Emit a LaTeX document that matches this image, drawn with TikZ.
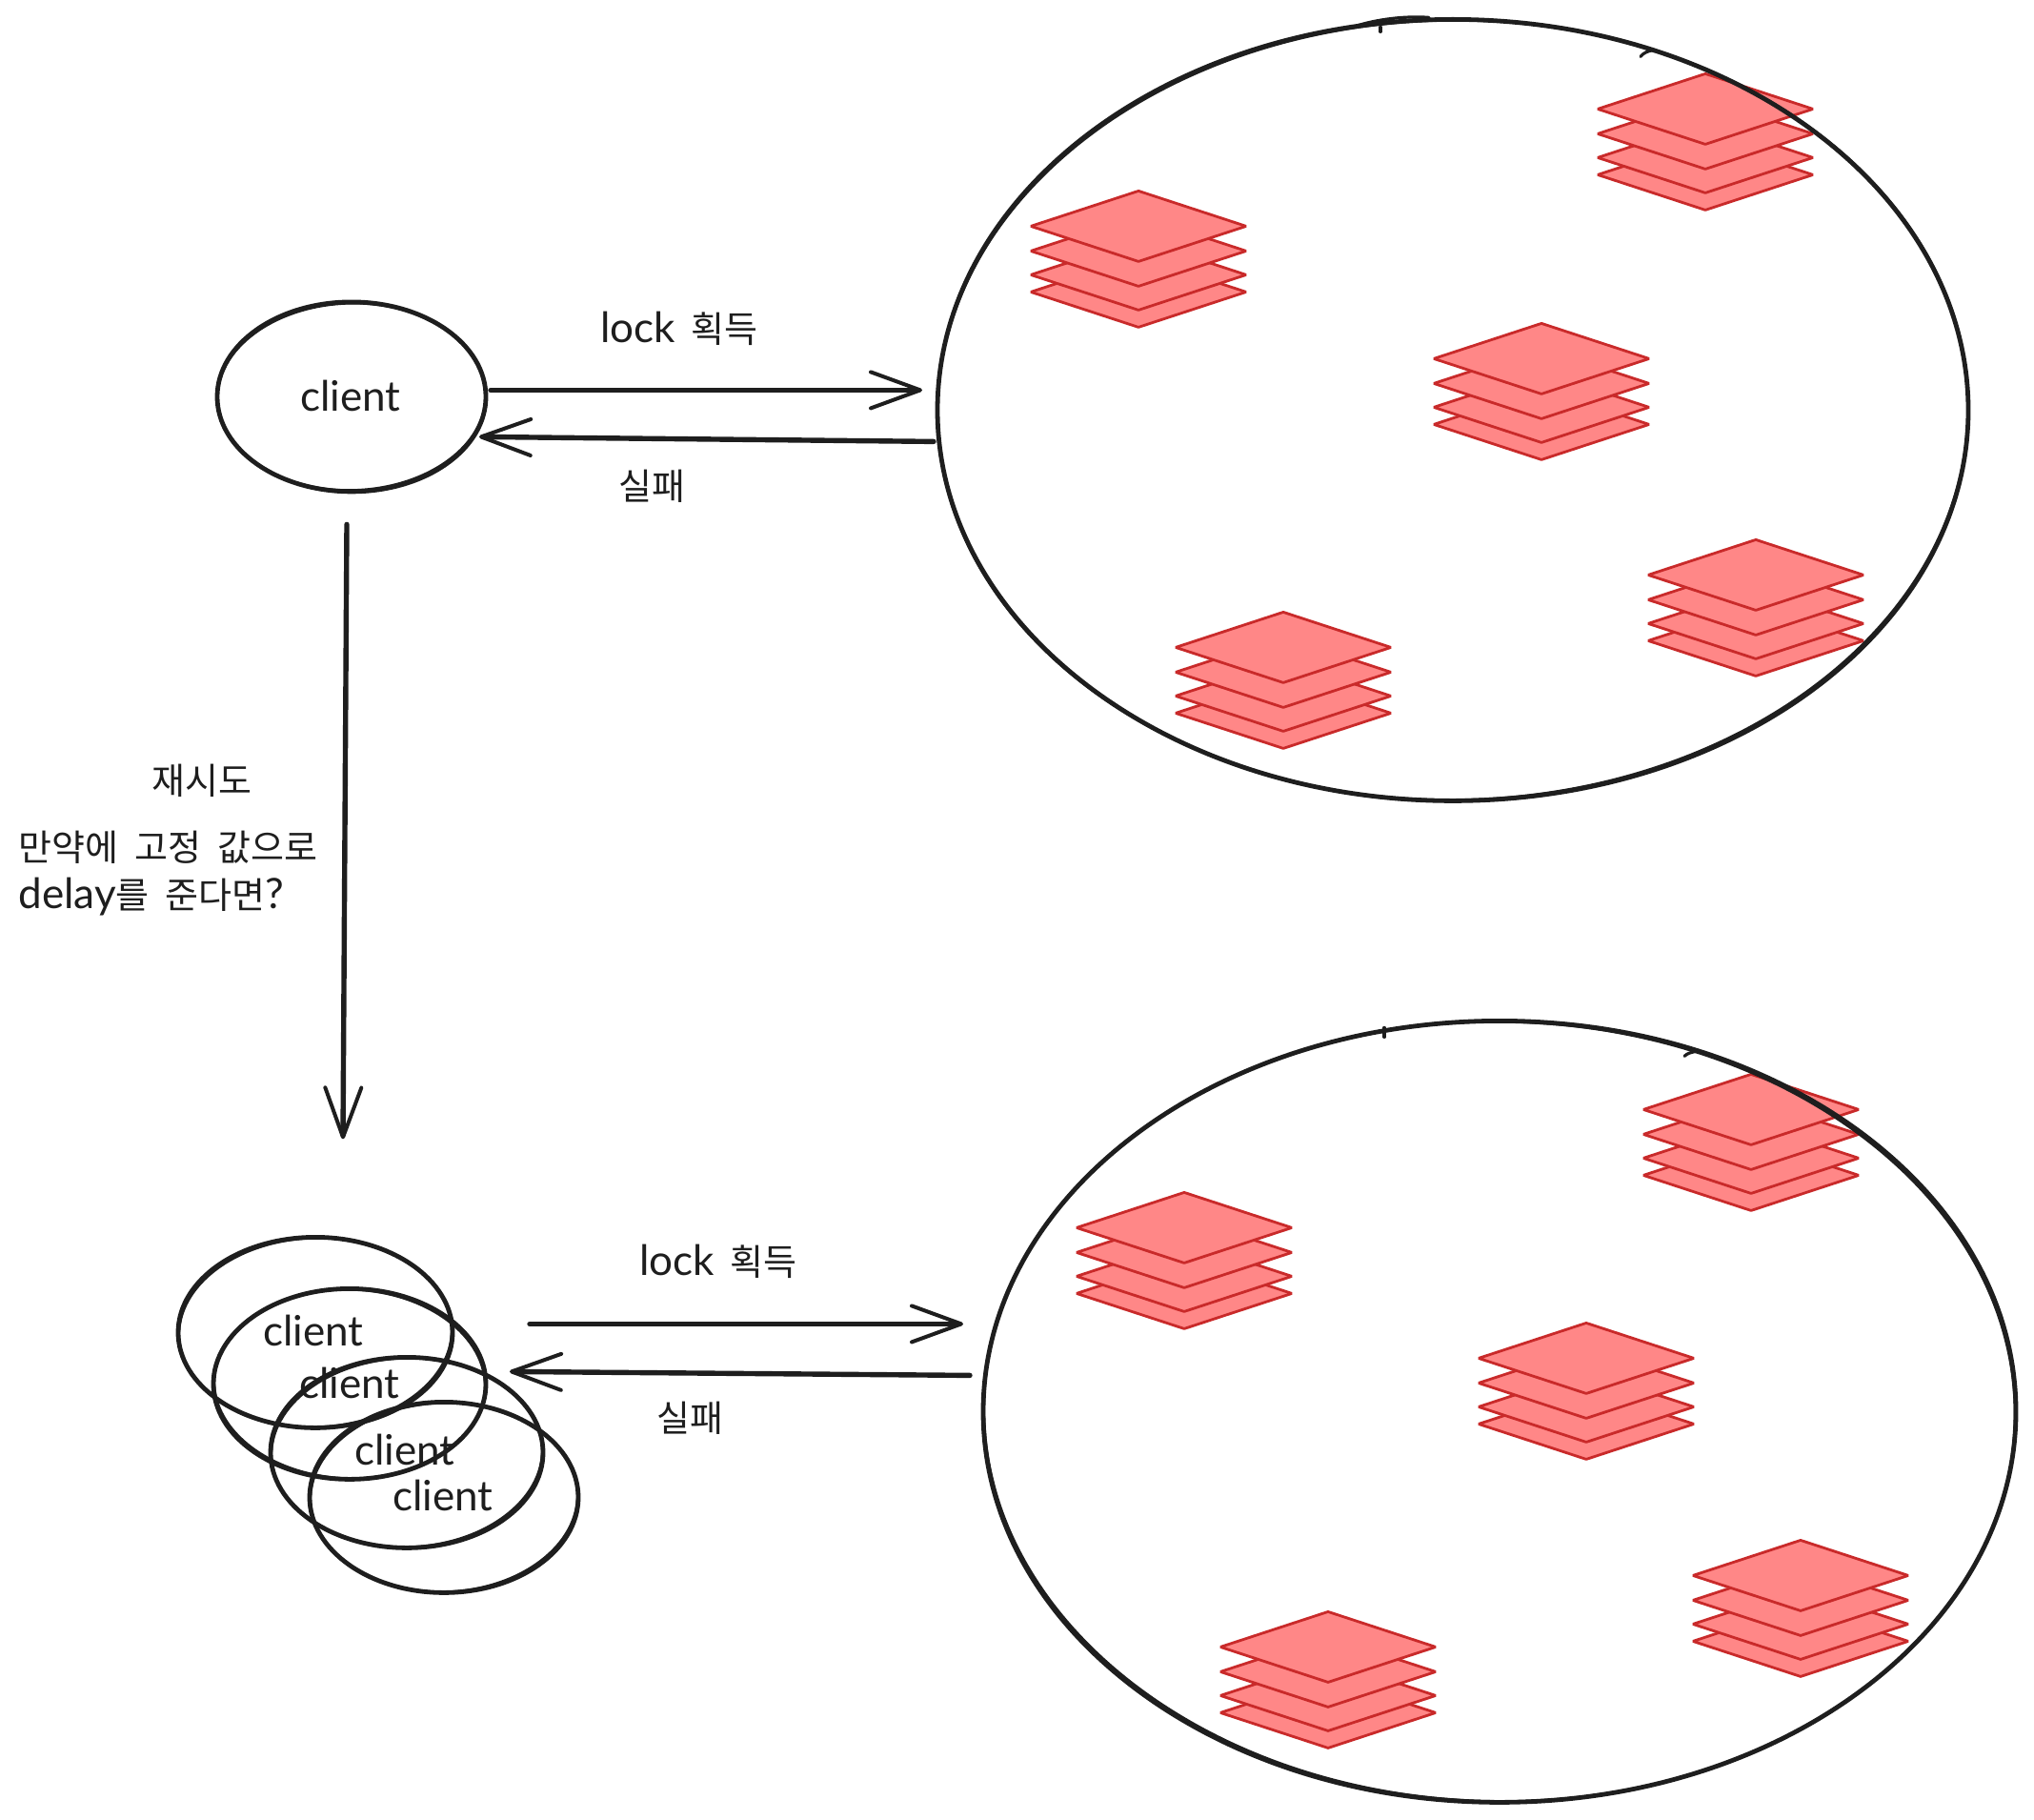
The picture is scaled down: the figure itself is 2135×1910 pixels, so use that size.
\documentclass[tikz,border=0pt]{standalone}
\usepackage{fontspec}
\setmainfont{Lato}
\newfontfamily\krfont{Noto Sans CJK KR}
\usetikzlibrary{arrows.meta,shapes.geometric}
\definecolor{ink}{HTML}{1E1E1E}
\definecolor{redfill}{HTML}{FF8787}
\definecolor{redline}{HTML}{C92A2A}
\newcommand{\hand}[1]{{\fontsize{22pt}{26pt}\selectfont #1}}
\newcommand{\kor}[1]{{\krfont\fontsize{19pt}{23pt}\selectfont #1}}
\newcommand{\sketchring}[5]{% node, rx, ry, angle, width
  \draw[ink,line width=#5pt,rotate around={#4:(#1)}] (#1) ellipse [x radius=#2,y radius=#3];}
\tikzset{
  x=0.5pt,y=-0.5pt,
  ring/.style={ellipse,draw=ink,line width=2.4pt,inner sep=0pt,outer sep=0pt},
  smallring/.style={ring,minimum width=141pt,minimum height=99.5pt},
  bigring/.style={ring,minimum width=541pt,minimum height=410pt},
  lbl/.style={inner sep=0pt,text=ink},
  tick/.style={ink,line width=1.6pt,line cap=round},
  arr/.style={draw=ink,line width=2.7pt,line cap=round,-{Straight Barb[length=26pt,width=19pt,line width=2pt,round]}},
  layer/.style={fill=redfill,draw=redline,line width=1.4pt,line join=bevel},
  stack/.pic={
    \foreach \d in {69,51,26,0}{
      \draw[layer] (-113,\d) -- (0,\d-37) -- (113,\d) -- (0,\d+37) -- cycle;
    }
  }
}
\begin{document}
\begin{tikzpicture}
\useasboundingbox (0,0) rectangle (2135,1910);
\fill[white] (0,0) rectangle (2135,1910);
\begin{scope}[yshift=-0.7pt]
% stacks, upper group
\pic at (1195,236) {stack};
\pic at (1790,113) {stack};
\pic at (1618,375) {stack};
\pic at (1843,602) {stack};
\pic at (1347,678) {stack};
% stacks, lower group
\pic at (1243,1287) {stack};
\pic at (1838,1163) {stack};
\pic at (1665,1424) {stack};
\pic at (1890,1652) {stack};
\pic at (1394,1727) {stack};
% large rings
\node[bigring,minimum width=1082pt*0.5,minimum height=820pt*0.5] (groupA) at (1525,429) {};
\sketchring{groupA}{541}{409}{0.7}{1.2}
\node[bigring,minimum width=1084pt*0.5,minimum height=820pt*0.5] (groupB) at (1574,1480) {};
\sketchring{groupB}{541}{409}{-0.7}{1.2}
\draw[tick] (1423,26) .. controls (1445,19) and (1475,15) .. (1500,17);
\draw[tick] (1449,27) -- (1449,32);
\draw[tick] (1722,58) .. controls (1725,54) and (1730,52) .. (1736,51);
\draw[tick] (1453,1077) -- (1453,1087);
\draw[tick] (1768,1107) .. controls (1771,1104) and (1775,1103) .. (1780,1102);
% clients
\node[smallring] (client) at (369,415) {};
\sketchring{client}{141}{98}{1.5}{1.2}
\node[lbl] (clientText) at (368,414) {\hand{client}};
\node[smallring,minimum width=144pt,minimum height=100pt] (c1) at (331,1397) {};
\sketchring{c1}{143}{99}{2}{1.1}
\node[smallring,minimum width=143pt,minimum height=100pt] (c2) at (367,1451) {};
\sketchring{c2}{142}{99}{-2}{1.1}
\node[smallring,minimum width=143pt,minimum height=100pt] (c3) at (427,1523) {};
\sketchring{c3}{142}{99}{2}{1.1}
\node[smallring,minimum width=141pt,minimum height=100pt] (c4) at (466,1570) {};
\sketchring{c4}{140}{99}{2}{1.1}
\node[lbl] (c1Text) at (329,1395) {\hand{client}};
\node[lbl] (c2Text) at (367,1450) {\hand{client}};
\node[lbl] (c3Text) at (425,1520) {\hand{client}};
\node[lbl] (c4Text) at (465,1568) {\hand{client}};
% free ends of the arrows
\coordinate (a1s) at (515,408);
\coordinate (a1e) at (968,408);
\coordinate (a2s) at (980,462);
\coordinate (a2e) at (503,457);
\coordinate (a3s) at (364,549);
\coordinate (a3e) at (360,1194);
\coordinate (a4s) at (556,1388);
\coordinate (a4e) at (1011,1388);
\coordinate (a5s) at (1018,1442);
\coordinate (a5e) at (535,1438);
\draw[arr] (a1s) -- (a1e);
\draw[arr] (a2s) -- (a2e);
\draw[arr] (a3s) -- (a3e);
\draw[arr] (a4s) -- (a4e);
\draw[arr] (a5s) -- (a5e);
% labels
\node[lbl] (lockA) at (713,343) {\hand{lock}\kor{\ \ 획득}};
\node[lbl] (failA) at (684,509) {\kor{실패}};
\node[lbl] (retry) at (212,818) {\kor{재시도}};
\node[lbl,anchor=west] (delayA) at (19,888) {\kor{만약에\ \ 고정\ \ 값으로}};
\node[lbl,anchor=west] (delayB) at (19,940) {\hand{delay}\kor{를\ \ 준다면}\hand{?}};
\node[lbl] (lockB) at (754,1322) {\hand{lock}\kor{\ \ 획득}};
\node[lbl] (failB) at (724,1487) {\kor{실패}};
\end{scope}
\end{tikzpicture}
\end{document}
